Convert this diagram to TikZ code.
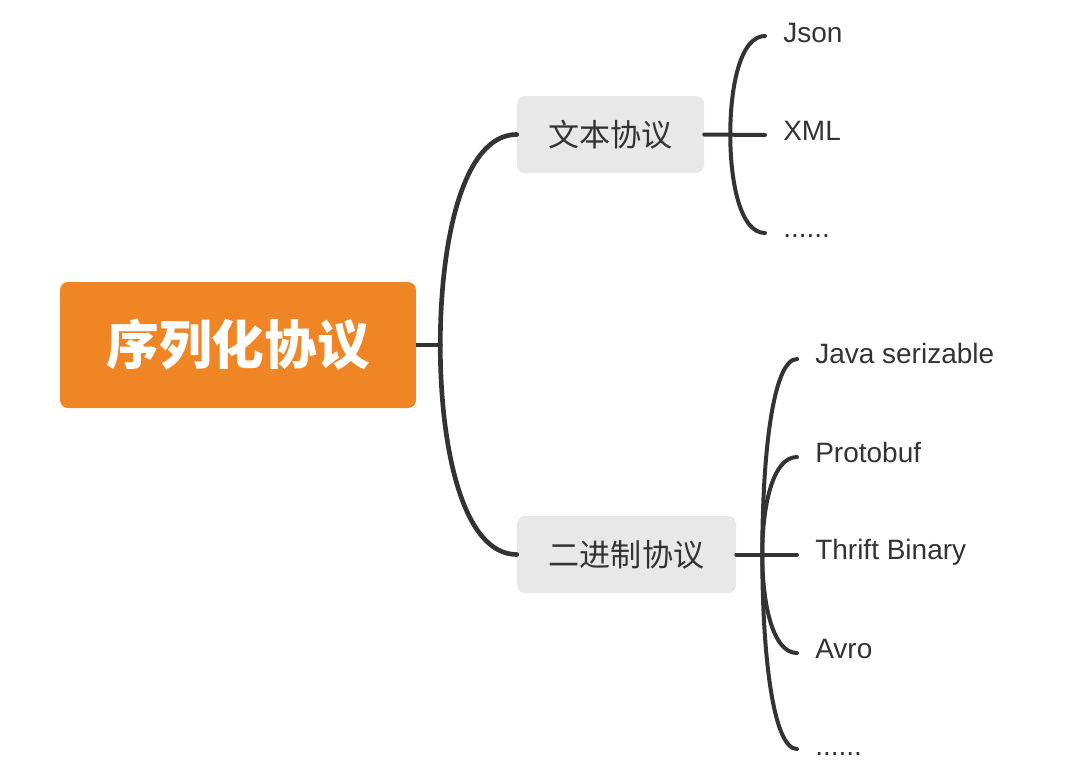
\documentclass[tikz,border=0pt]{standalone}
\usepackage{fontspec}
\setmainfont{Liberation Sans}
\newfontfamily\cjk{Noto Sans CJK SC}
\usetikzlibrary{calc}
\definecolor{rootorange}{HTML}{F08526}
\definecolor{boxgray}{HTML}{E8E8E8}
\definecolor{ink}{HTML}{333333}
\begin{document}
\begin{tikzpicture}[x=0.75pt,y=-0.75pt,
  rootbox/.style={fill=rootorange,rounded corners=6pt,minimum width=267pt,minimum height=94.5pt,
    inner sep=0pt,text=white,font=\cjk\bfseries\fontsize{39.5}{40}\selectfont},
  subbox/.style={fill=boxgray,rounded corners=6pt,minimum height=57.75pt,inner sep=0pt,
    text=ink,font=\cjk\fontsize{23.3}{24}\selectfont},
  leaf/.style={anchor=base west,inner sep=0pt,text=ink,font=\fontsize{21}{22}\selectfont},
  mainline/.style={draw=ink,line width=3.5pt},
  subline/.style={draw=ink,line width=3pt},
]
\useasboundingbox (0,0) rectangle (1070,779);

\node[rootbox] (root) at (238,345) {序列化协议};
\node[subbox,minimum width=140.25pt] (t1) at (610.5,134.5) {文本协议};
\node[subbox,minimum width=164.25pt] (t2) at (626.5,554.5) {二进制协议};

\node[leaf] (json) at (783,42) {Json};
\node[leaf] (xml) at (783,140) {XML};
\node[leaf] (dots1) at (783,237) {......};

\node[leaf] (java) at (815,363) {Java serizable};
\node[leaf] (proto) at (815,462) {Protobuf};
\node[leaf] (thrift) at (815,559) {Thrift Binary};
\node[leaf] (avro) at (815,658) {Avro};
\node[leaf] (dots2) at (815,755) {......};

% junctions
\coordinate (j0) at ($(root.east)+(24,0)$);
\coordinate (j1) at ($(t1.east)+(26,0)$);
\coordinate (j2) at ($(t2.east)+(26,0)$);

% connector ends for leaves
\coordinate (ejson) at ($(json.base west)+(-18,-6)$);
\coordinate (exml) at ($(xml.base west)+(-18,-5)$);
\coordinate (edots1) at ($(dots1.base west)+(-18,-4)$);
\coordinate (ejava) at ($(java.base west)+(-18,-4)$);
\coordinate (eproto) at ($(proto.base west)+(-18,-5)$);
\coordinate (ethrift) at ($(thrift.base west)+(-18,-4.5)$);
\coordinate (eavro) at ($(avro.base west)+(-18,-5)$);
\coordinate (edots2) at ($(dots2.base west)+(-18,-6)$);

% level 1
\draw[mainline] (root.east) -- (j0);
\draw[mainline,line cap=round] (j0) .. controls ($(j0)!0.5!(j0|-t1.west)$) and ($(j0|-t1.west)!0.3!(t1.west)$) .. (t1.west);
\draw[mainline,line cap=round] (j0) .. controls ($(j0)!0.5!(j0|-t2.west)$) and ($(j0|-t2.west)!0.3!(t2.west)$) .. (t2.west);

% level 2 : text protocols
\draw[subline,line cap=round] (t1.east) -- (exml);
\foreach \e in {ejson,edots1}{
  \draw[subline,line cap=round] (j1) .. controls ($(j1)!0.5!(j1|-\e)$) and ($(j1|-\e)!0.3!(\e)$) .. (\e);
}

% level 2 : binary protocols
\draw[subline,line cap=round] (t2.east) -- (ethrift);
\foreach \e in {ejava,eproto,eavro,edots2}{
  \draw[subline,line cap=round] (j2) .. controls ($(j2)!0.5!(j2|-\e)$) and ($(j2|-\e)!0.3!(\e)$) .. (\e);
}
\end{tikzpicture}
\end{document}
